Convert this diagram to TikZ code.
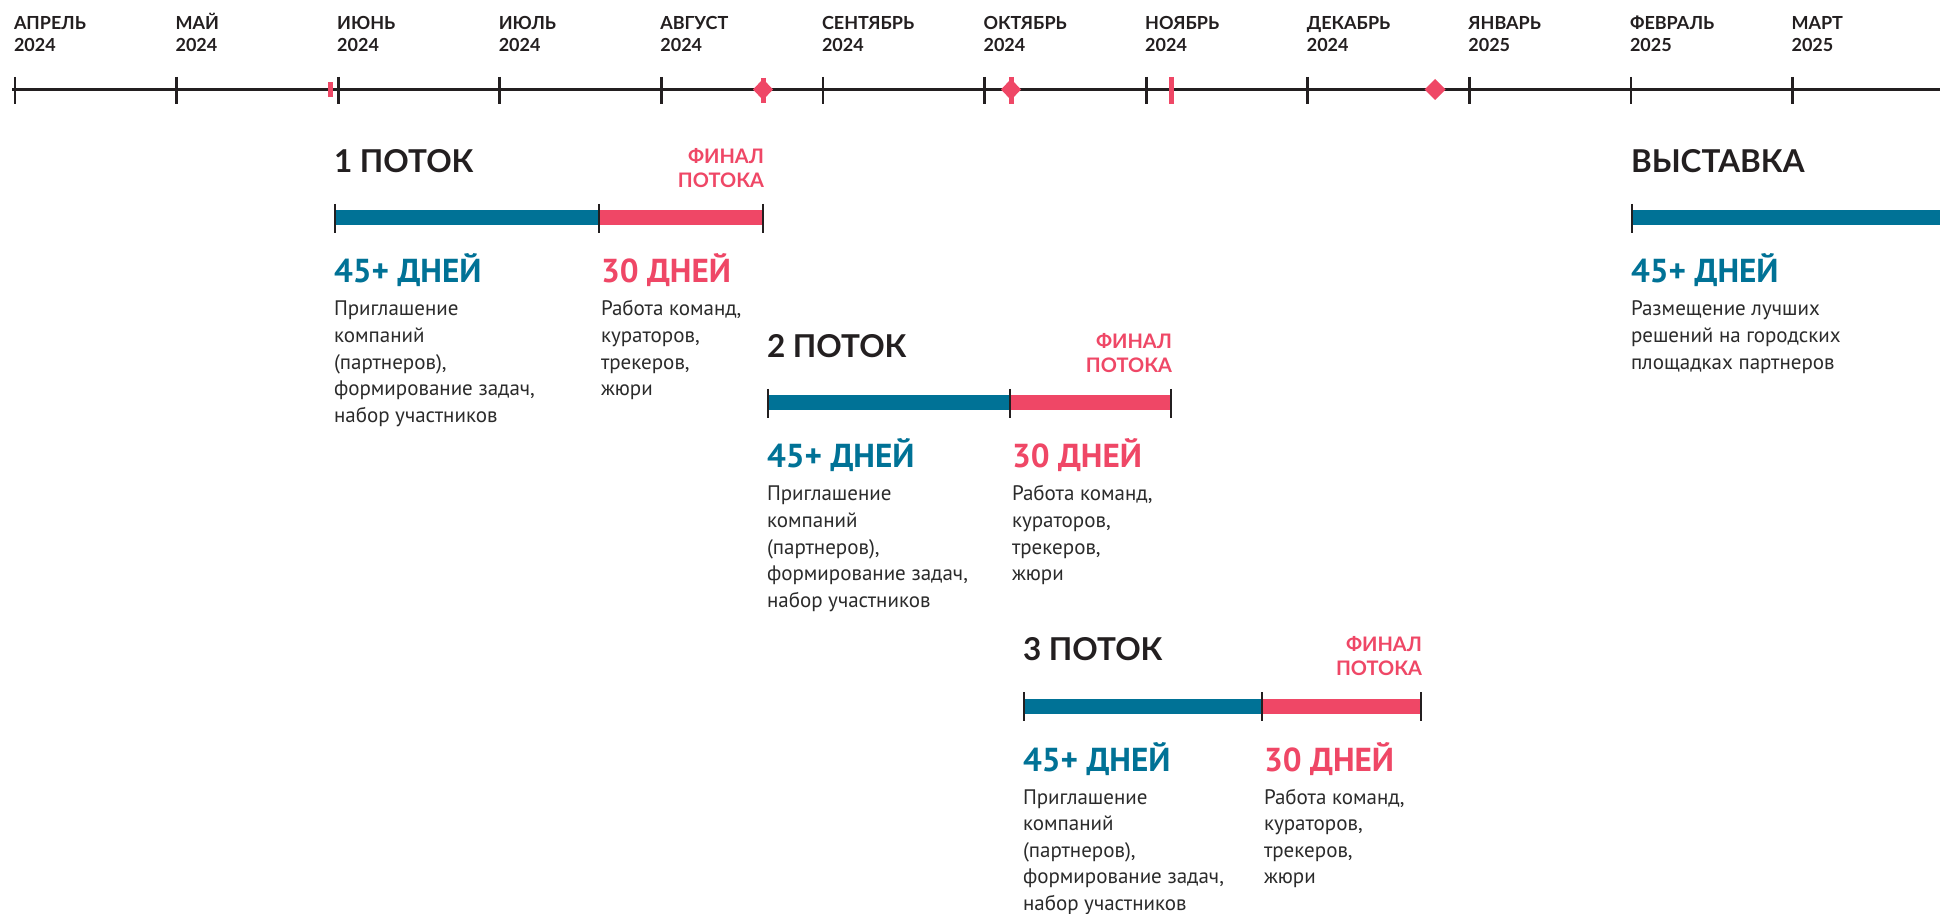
\documentclass[tikz,border=0pt]{standalone}
\usepackage{fontspec}
\setmainfont{PT Sans}
\newfontfamily\headfont{Lato}
\definecolor{ink}{HTML}{231F20}
\definecolor{bodyc}{HTML}{2B2B2B}
\definecolor{tblue}{HTML}{007296}
\definecolor{tpink}{HTML}{EF4766}
\tikzset{
  month/.style={anchor=base west, inner sep=0pt, outer sep=0pt, align=left, text=ink,
    font=\headfont\bfseries\fontsize{9}{11}\selectfont},
  stitle/.style={anchor=base west, inner sep=0pt, outer sep=0pt, text=ink,
    font=\headfont\bfseries\fontsize{15.75}{18}\selectfont},
  final/.style={anchor=base east, inner sep=0pt, outer sep=0pt, align=right, text=tpink,
    font=\headfont\bfseries\fontsize{10}{12}\selectfont},
  days/.style={anchor=base west, inner sep=0pt, outer sep=0pt,
    font=\bfseries\fontsize{16.6}{18}\selectfont},
  desc/.style={anchor=base west, inner sep=0pt, outer sep=0pt, align=left, text=bodyc,
    font=\fontsize{10.5}{13.3}\selectfont},
  bartick/.style={line width=1.4pt, draw=ink},
  axis/.style={line width=1.35pt, draw=ink},
  barblue/.style={line width=7.5pt, draw=tblue},
  barpink/.style={line width=7.5pt, draw=tpink},
}
% multi-line nodes: the base anchor is the baseline of the LAST line
\newcommand\potok[6]{%
  % #1 id, #2 x0, #3 xsplit, #4 xend, #5 dy, #6 number
  \draw[barblue] (#2,218+#5) -- (#3,218+#5);
  \draw[barpink] (#3,218+#5) -- (#4,218+#5);
  \draw[bartick] (#2,204+#5) -- (#2,233+#5);
  \draw[bartick] (#3,204+#5) -- (#3,233+#5);
  \draw[bartick] (#4,204+#5) -- (#4,233+#5);
  \node[stitle] (#1title) at (#2-1,172.7+#5) {#6 ПОТОК};
  \node[final] (#1final) at (#4+1,187.3+#5) {ФИНАЛ\\ПОТОКА};
  \node[days, text=tblue] (#1blue) at (#2-1,283+#5) {45+ ДНЕЙ};
  \node[days, text=tpink] (#1pink) at (#3+2,283+#5) {30 ДНЕЙ};
  \node[desc] (#1bdesc) at (#2-1,422.4+#5) {Приглашение\\компаний\\(партнеров),\\формирование задач,\\набор участников};
  \node[desc] (#1pdesc) at (#3+2,395.8+#5) {Работа команд,\\кураторов,\\трекеров,\\жюри};
}
\begin{document}
\begin{tikzpicture}[x=0.5pt,y=-0.5pt]
\useasboundingbox[fill=white] (0,0) rectangle (1940,914);
% timeline
\coordinate (tlstart) at (12,89.5);
\coordinate (tlend) at (1940,89.5);
\draw[axis] (tlstart) -- (tlend);
\foreach \m [count=\i from 0] in {АПРЕЛЬ\\2024,МАЙ\\2024,ИЮНЬ\\2024,ИЮЛЬ\\2024,АВГУСТ\\2024,СЕНТЯБРЬ\\2024,ОКТЯБРЬ\\2024,НОЯБРЬ\\2024,ДЕКАБРЬ\\2024,ЯНВАРЬ\\2025,ФЕВРАЛЬ\\2025,МАРТ\\2025}{
  \pgfmathsetmacro\tx{15+161.6*\i}
  \draw[bartick] (\tx,77) -- (\tx,104);
  \node[month] (m\i) at (\tx-1,52) {\m};
}
% red markers
\fill[tpink] (327.5,82) rectangle (332.5,97);
\draw[tpink, line width=2.5pt] (763,78) -- (763,103);
\fill[tpink] (763,79) -- (773,89.5) -- (763,100) -- (753,89.5) -- cycle;
\draw[tpink, line width=2.5pt] (1011,77) -- (1011,104);
\fill[tpink] (1011,79) -- (1021,89.5) -- (1011,100) -- (1001,89.5) -- cycle;
\draw[tpink, line width=2.3pt] (1171.5,77) -- (1171.5,104);
\fill[tpink] (1435,79) -- (1445.5,89.5) -- (1435,100) -- (1424.5,89.5) -- cycle;
% streams
\potok{s1}{335}{599}{763}{0}{1}
\potok{s2}{768}{1010}{1171}{185}{2}
\potok{s3}{1024}{1262}{1421}{488}{3}
% exhibition
\draw[barblue] (1632,218) -- (1940,218);
\draw[bartick] (1632,204) -- (1632,233);
\node[stitle] (extitle) at (1631,172.7) {ВЫСТАВКА};
\node[days, text=tblue] (exblue) at (1631,283) {45+ ДНЕЙ};
\node[desc] (exdesc) at (1631,369.2) {Размещение лучших\\решений на городских\\площадках партнеров};
\end{tikzpicture}
\end{document}
